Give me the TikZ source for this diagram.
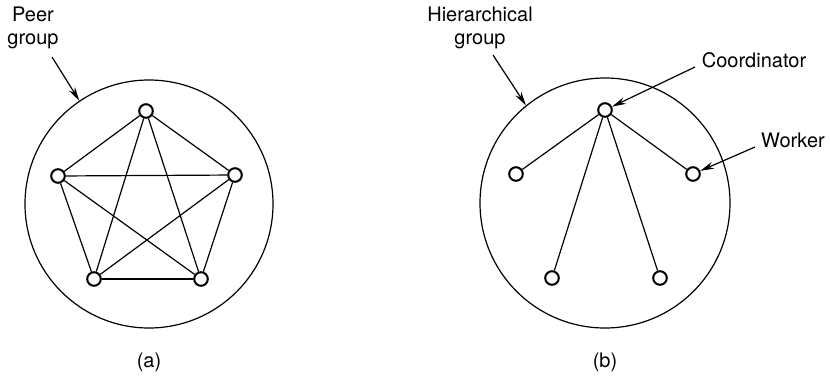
\documentclass[tikz,border=0pt]{standalone}
\usepackage{fontspec}
\setmainfont{TeX Gyre Heros}
\usetikzlibrary{arrows.meta,calc,positioning}

\begin{document}
\begin{tikzpicture}[x=0.5pt,y=-0.5pt,
    grp/.style={draw,circle,line width=0.6pt,inner sep=0pt},
    proc/.style={draw,circle,line width=1pt,inner sep=0pt,minimum size=6.8pt,fill=white},
    lab/.style={font=\fontsize{10}{11.5}\selectfont,align=center},
    ptr/.style={-{Stealth[length=7pt,width=3.5pt]},line width=0.6pt}]
  \useasboundingbox (0,0) rectangle (830,381);
  % (a) peer group
  \node[grp,minimum size=124pt] (ga) at (149,204) {};
  \foreach \n/\x/\y in {p1/146/111, p2/235/175, p3/201/279, p4/94/279, p5/58/176}
    { \node[proc] (\n) at (\x,\y) {}; }
  \foreach \a/\b in {p1/p2,p1/p3,p1/p4,p1/p5,p2/p3,p2/p4,p2/p5,p3/p4,p3/p5,p4/p5}
    { \draw[line width=0.6pt] (\a) -- (\b); }
  \node[lab] (peer) at (33,28) {Peer\\group};
  \coordinate (pa) at (52,57);
  \draw[ptr] (pa) -- (ga.124);
  \node[lab] (capa) at (149,362) {(a)};
  % (b) hierarchical group
  \node[grp,minimum size=125pt] (gb) at (605,203) {};
  \node[proc] (c) at (605,110) {};
  \foreach \n/\x/\y in {w1/516/174, w2/693/174, w3/552/278, w4/660/278}
    { \node[proc] (\n) at (\x,\y) {};
      \draw[line width=0.6pt] (c) -- (\n); }
  \node[lab] (hier) at (480,28) {Hierarchical\\group};
  \coordinate (ha) at (493,55);
  \draw[ptr] (ha) -- (gb.129);
  \node[lab] (coord) at (754,60) {Coordinator};
  \coordinate (ca) at (695,67);
  \draw[ptr] (ca) -- (c);
  \node[lab] (work) at (793,140) {Worker};
  \coordinate (wa) at (755,147);
  \draw[ptr] (wa) -- (w2);
  \node[lab] (capb) at (605,362) {(b)};
\end{tikzpicture}
\end{document}
